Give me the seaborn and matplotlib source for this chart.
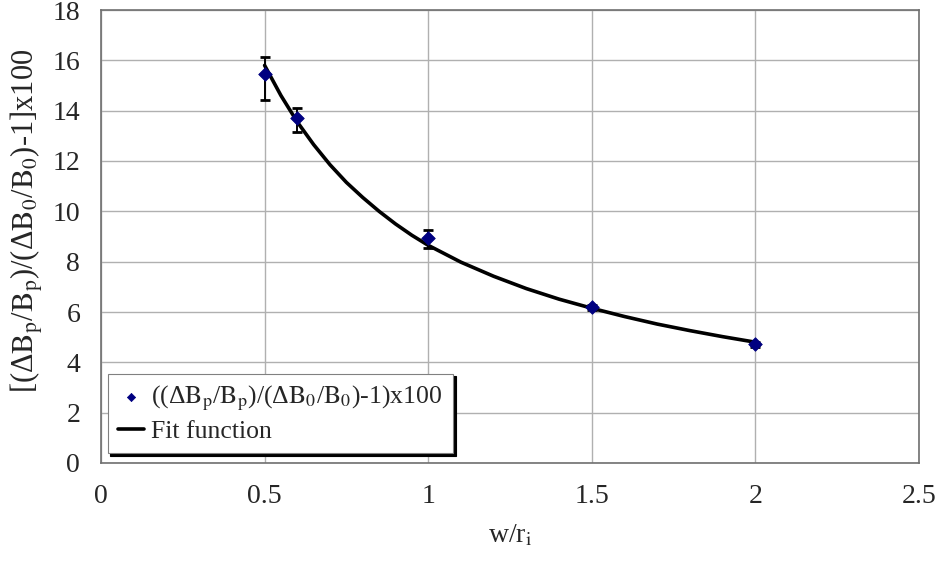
import matplotlib
matplotlib.use("Agg")
import matplotlib.pyplot as plt
import seaborn as sns
import pandas as pd

# measured data
x_pts = [0.5, 0.6, 1.0, 1.5, 2.0]
y_pts = [15.47, 13.71, 8.94, 6.19, 4.71]
err_lo = [1.03, 0.55, 0.40, 0.10, 0.10]
err_hi = [0.68, 0.39, 0.31, 0.10, 0.10]

# fit curve
x_fit = [0.5, 0.55, 0.6, 0.65, 0.7, 0.75, 0.8, 0.85, 0.9, 0.95, 1.0,
         1.1, 1.2, 1.3, 1.4, 1.5, 1.6, 1.7, 1.8, 1.9, 2.0]
y_fit = [15.8, 14.6, 13.55, 12.65, 11.85, 11.15, 10.55, 10.0, 9.5, 9.05, 8.65,
         7.98, 7.42, 6.93, 6.51, 6.15, 5.82, 5.52, 5.26, 5.02, 4.8]

xticks = [0, 0.5, 1, 1.5, 2, 2.5]
yticks = list(range(0, 19, 2))

sns.set_theme(style="white")
plt.rcParams['font.family'] = ['Liberation Serif', 'DejaVu Serif']
plt.rcParams['mathtext.fontset'] = 'stix'

fig = plt.figure(figsize=(9.39, 5.70), dpi=100)
ax = fig.add_axes([101/939, 1-463/570, (919-101)/939, (463-10)/570])

df_fit = pd.DataFrame({"x": x_fit, "y": y_fit})
df_pts = pd.DataFrame({"x": x_pts, "y": y_pts})

ax.errorbar(x_pts, y_pts, yerr=[err_lo, err_hi], fmt='none', ecolor='black',
            elinewidth=1.4, capsize=3.5, capthick=2.0, zorder=3)
sns.lineplot(data=df_fit, x="x", y="y", ax=ax, color='black', linewidth=2.6,
             zorder=4, label='Fit function')
sns.scatterplot(data=df_pts, x="x", y="y", ax=ax, marker='D', color='#000080',
                s=48, edgecolor='#000080', zorder=5,
                label=r'((Δ$\mathrm{B}_\mathrm{p}$/$\mathrm{B}_\mathrm{p}$)/(Δ$\mathrm{B}_0$/$\mathrm{B}_0$)-1)x100')

ax.set_xlim(0, 2.5)
ax.set_ylim(0, 18)
ax.set_xticks(xticks)
ax.set_xticklabels(['0', '0.5', '1', '1.5', '2', '2.5'])
ax.set_yticks(yticks)
ax.grid(True, color='#b0b0b0', linewidth=1.0)
ax.set_axisbelow(True)
for s in ax.spines.values():
    s.set_color('#707070')
    s.set_linewidth(1.2)
ax.tick_params(axis='both', which='major', direction='out', length=8,
               width=1.0, color='#707070', labelsize=20, pad=7)

ax.set_xlabel(r'w/r$_\mathrm{i}$', fontsize=20, labelpad=10)
ax.set_ylabel(r'[(Δ$\mathrm{B}_\mathrm{p}$/$\mathrm{B}_\mathrm{p}$)/(Δ$\mathrm{B}_0$/$\mathrm{B}_0$)-1]x100',
              fontsize=22, labelpad=4)
ax.yaxis.set_label_coords(-0.069, 0.535)

h, l = ax.get_legend_handles_labels()
order = [1, 0]
leg = ax.legend([h[i] for i in order], [l[i] for i in order], loc='lower left',
                bbox_to_anchor=(0.008, 0.022), fontsize=18.5, frameon=True,
                fancybox=False, shadow={'color': 'black', 'alpha': 1.0},
                edgecolor='#808080', markerscale=0.6,
                handlelength=1.0, handletextpad=0.3, borderpad=0.4,
                labelspacing=0.25, borderaxespad=0)
leg.get_frame().set_linewidth(0.8)

fig.savefig('out.png', dpi=100)
